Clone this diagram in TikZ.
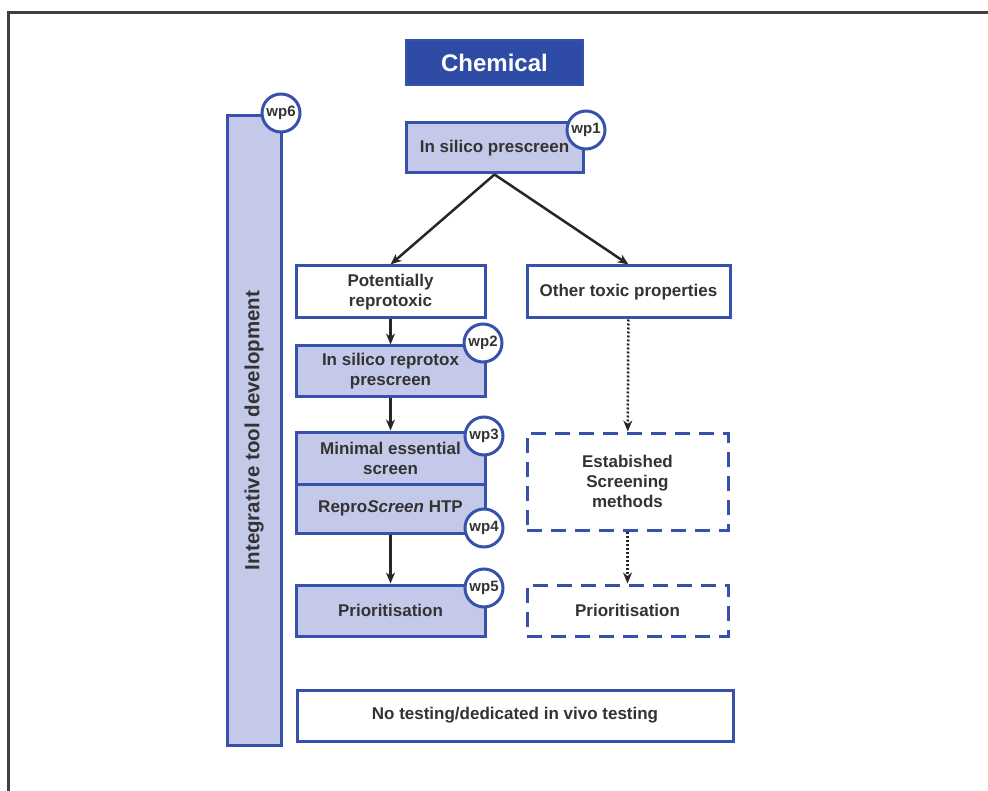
\documentclass[tikz,border=0pt]{standalone}
\usepackage{fontspec}
\setmainfont{Liberation Sans}
\usepackage{tikz}
\usepackage{xcolor}
\usetikzlibrary{arrows,arrows.meta,shapes,positioning,calc}

\definecolor{wpblue}{HTML}{3652AC}
\definecolor{wpdark}{HTML}{2E4CA6}
\definecolor{wplight}{HTML}{C5C9E9}
\definecolor{wptext}{HTML}{333333}

\tikzset{
    stagebox/.style={draw=wpblue, line width=3pt, fill=wplight, text=wptext, align=center, font=\fontsize{17}{20}\selectfont\bfseries, inner sep=0pt},
    openbox/.style={stagebox, fill=white},
    dashbox/.style={stagebox, fill=white, dash pattern=on 15pt off 9pt},
    wpmark/.style={circle, draw=wpblue, line width=3pt, fill=white, minimum size=38pt, inner sep=0pt, text=wptext, font=\fontsize{15}{18}\selectfont\bfseries},
    flow/.style={-{Stealth[length=11pt,width=9pt]}, line width=2.5pt, black!85},
    dotflow/.style={flow, dash pattern=on 2pt off 2pt}
}

\begin{document}
\begin{tikzpicture}[x=1pt, y=-1pt]
    \useasboundingbox (0,0) rectangle (988,791);
    \clip (0,0) rectangle (988,791);
    % outer frame
    \draw[line width=3pt, black!75] (8,13) rectangle (1010,820);

    % Side bar for integrative tool development
    \node[stagebox, minimum width=54pt, minimum height=629pt] (bar) at (254,430.5) {};
    \node[rotate=90, text=wptext, font=\fontsize{20.5}{24}\selectfont\bfseries] (bartext) at (bar.center) {Integrative tool development};

    % Top of the flow
    \node[draw=wpblue, line width=1.5pt, fill=wpdark, text=white, font=\fontsize{24}{28}\selectfont\bfseries, minimum width=177pt, minimum height=45pt] (chem) at (494.5,62.5) {Chemical};
    \node[stagebox, minimum width=177pt, minimum height=50pt] (pre) at (494.5,148) {In silico prescreen};

    % Left branch
    \node[openbox, minimum width=189pt, minimum height=52pt] (pot) at (390.5,292) {Potentially\\reprotoxic};
    \node[stagebox, minimum width=189pt, minimum height=51pt] (repro) at (390.5,371.5) {In silico reprotox\\prescreen};
    \node[stagebox, minimum width=189pt, minimum height=52pt] (mes) at (390.5,458) {Minimal essential\\screen};
    \node[stagebox, minimum width=189pt, minimum height=49pt] (htp) at (390.5,508.5) {Repro\textit{Screen} HTP};
    \node[stagebox, minimum width=189pt, minimum height=51pt] (prio) at (390.5,610.5) {Prioritisation};

    % Right branch
    \node[openbox, minimum width=203pt, minimum height=52pt] (other) at (628.5,292) {Other toxic properties};
    \node[dashbox, minimum width=201pt, minimum height=97pt] (est) at (627.5,481.5) {Estabished\\Screening\\methods};
    \node[dashbox, minimum width=201pt, minimum height=51pt] (prio2) at (627.5,610.5) {Prioritisation};

    % Bottom box
    \node[openbox, minimum width=436pt, minimum height=51pt] (none) at (515,715.5) {No testing/dedicated in vivo testing};

    % Connectors
    \draw[flow] (pre.south) -- (pot.north);
    \draw[flow] (pre.south) -- (other.north);
    \draw[flow] (pot) -- (repro);
    \draw[flow] (repro) -- (mes);
    \draw[flow] (htp) -- (prio);
    \draw[dotflow] (other) -- (est);
    \draw[dotflow] (est) -- (prio2);

    % Work package marks
    \node[wpmark] (wp1) at (586,130) {wp1};
    \node[wpmark] (wp2) at (483,343) {wp2};
    \node[wpmark] (wp3) at (484,436) {wp3};
    \node[wpmark] (wp4) at (484,528) {wp4};
    \node[wpmark] (wp5) at (484,588) {wp5};
    \node[wpmark] (wp6) at (281,113) {wp6};
\end{tikzpicture}
\end{document}
